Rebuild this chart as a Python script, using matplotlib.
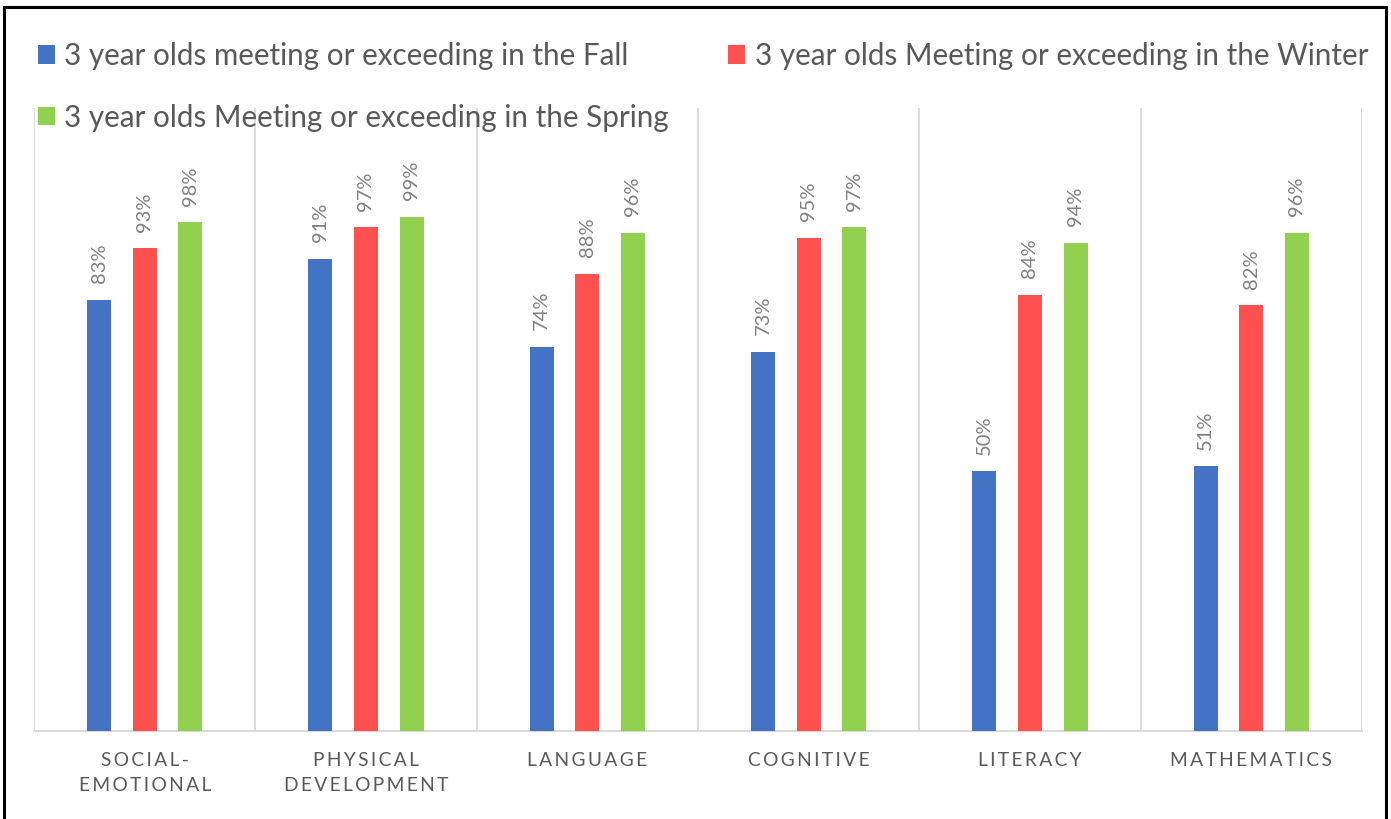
import matplotlib
matplotlib.use("Agg")
import matplotlib.pyplot as plt
import numpy as np
from matplotlib.patches import Rectangle

categories = ["SOCIAL-\nEMOTIONAL", "PHYSICAL\nDEVELOPMENT", "LANGUAGE", "COGNITIVE", "LITERACY", "MATHEMATICS"]
series_names = ["3 year olds meeting or exceeding in the Fall",
                "3 year olds Meeting or exceeding in the Winter",
                "3 year olds Meeting or exceeding in the Spring"]
fall = [0.83, 0.91, 0.74, 0.73, 0.50, 0.51]
winter = [0.93, 0.97, 0.88, 0.95, 0.84, 0.82]
spring = [0.98, 0.99, 0.96, 0.97, 0.94, 0.96]
colors = ["#4472C4", "#FF5050", "#92D050"]

W, H = 1391, 819
fig = plt.figure(figsize=(W / 100, H / 100), dpi=100)
ax = fig.add_axes([34 / W, (H - 731) / H, (1362 - 34) / W, (731 - 108) / H])

FONT = ["Lato", "DejaVu Sans"]
x = np.arange(len(categories))
off = 0.206
bw = 0.108
handles = []
for i, (vals, c, name) in enumerate(zip([fall, winter, spring], colors, series_names)):
    bars = ax.bar(x + (i - 1) * off, vals, width=bw, color=c, label=name, zorder=3)
    handles.append(bars)
    for xi, v in zip(x + (i - 1) * off, vals):
        ax.annotate(f"{round(v * 100)}%", (xi, v), xytext=(0, 12), textcoords="offset points",
                    rotation=90, ha="center", va="bottom", fontsize=14.5, color="#808080",
                    family=FONT)

ax.set_xlim(-0.5, len(categories) - 0.5)
ax.set_ylim(0, 1.2)
ax.set_yticks([])
for b in np.arange(-0.5, len(categories), 1.0):
    ax.axvline(b, color="#D9D9D9", lw=1.3, zorder=1)
for s in ["left", "right", "top"]:
    ax.spines[s].set_visible(False)
ax.spines["bottom"].set_color("#D9D9D9")
ax.spines["bottom"].set_linewidth(1.5)

spaced = ["\n".join("\u2009".join(line) for line in c.split("\n")) for c in categories]
ax.set_xticks(x)
ax.set_xticklabels(spaced, fontsize=13.8, color="#595959", family=FONT, linespacing=1.55)
ax.tick_params(axis="x", length=0, pad=15)

leg = fig.legend([handles[0], handles[2], handles[1]],
                 [series_names[0], series_names[2], series_names[1]],
                 ncol=2, loc="upper left", bbox_to_anchor=(38 / W, 1 - 42 / H),
                 frameon=False, prop={"family": FONT, "size": 21.3},
                 handlelength=0.56, handleheight=0.58, handletextpad=0.33,
                 columnspacing=2.0, labelspacing=1.14, borderpad=0, borderaxespad=0)
for t in leg.get_texts():
    t.set_color("#595959")

fig.patches.append(Rectangle((4 / W, -0.05), (1386 - 4) / W, 1.05 - 7 / H,
                             transform=fig.transFigure, fill=False,
                             edgecolor="black", lw=2.2, zorder=10))

fig.savefig("out.png", dpi=100, facecolor="white")
